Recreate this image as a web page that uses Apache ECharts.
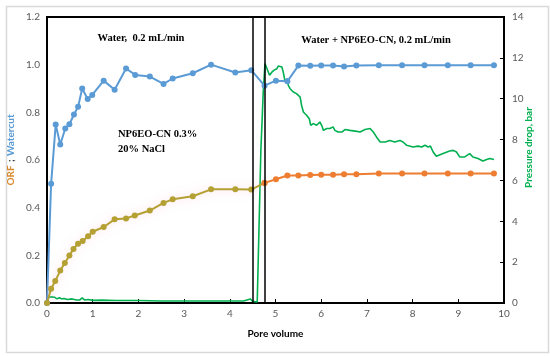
<!DOCTYPE html>
<html>
<head>
<meta charset="utf-8">
<script src="https://cdn.jsdelivr.net/npm/echarts@6/dist/echarts.min.js"></script>
<style>html,body{margin:0;padding:0;background:#fff}#c{width:550px;height:356px}</style>
</head>
<body>
<div id="c"></div>
<script>
// ---- data ----
const xTicks = [0,1,2,3,4,5,6,7,8,9,10];
const leftTicks = [0,0.2,0.4,0.6,0.8,1.0,1.2];
const rightTicks = [0,2,4,6,8,10,12,14];

const watercutPV = [0,0.09,0.19,0.29,0.40,0.49,0.59,0.68,0.77,0.89,0.99,1.24,1.48,1.73,1.93,2.25,2.55,2.75,3.19,3.59,4.12,4.47,4.76,5.01,5.26,5.50,5.76,6.00,6.26,6.50,6.77,7.26,7.77,8.26,8.77,9.27,9.78];
const watercut   = [0,0.50,0.749,0.665,0.732,0.750,0.791,0.823,0.900,0.856,0.873,0.933,0.895,0.984,0.957,0.950,0.919,0.942,0.964,1.000,0.967,0.977,0.912,0.933,0.930,0.996,0.995,0.996,0.996,0.992,0.996,0.998,0.998,0.998,0.998,0.998,0.998];

const orfWaterPV = [0,0.09,0.18,0.29,0.39,0.49,0.58,0.68,0.78,0.90,1.00,1.24,1.48,1.73,1.92,2.25,2.55,2.75,3.19,3.59,4.12,4.47,4.76];
const orfWater   = [0,0.060,0.092,0.136,0.168,0.199,0.227,0.249,0.260,0.280,0.299,0.319,0.351,0.355,0.367,0.388,0.420,0.435,0.448,0.477,0.477,0.476,0.504];

const orfSurfPV = [4.76,5.01,5.26,5.50,5.76,6.00,6.26,6.50,6.77,7.26,7.77,8.26,8.77,9.27,9.78];
const orfSurf   = [0.504,0.519,0.535,0.535,0.537,0.538,0.538,0.540,0.540,0.543,0.543,0.543,0.543,0.543,0.543];

const dpPV = [0,0.03,0.08,0.12,0.17,0.22,0.27,0.32,0.37,0.45,0.55,0.65,0.72,0.77,0.82,0.9,1.0,1.2,1.5,2.0,2.5,3.0,3.5,4.0,4.3,4.45,4.5,4.6,4.64,4.68,4.71,4.73,4.77,4.81,4.87,4.92,4.97,5.03,5.06,5.10,5.14,5.17,5.21,5.25,5.28,5.32,5.36,5.39,5.43,5.46,5.54,5.57,5.61,5.68,5.74,5.77,5.83,5.90,5.97,6.01,6.05,6.12,6.19,6.26,6.30,6.37,6.45,6.48,6.52,6.63,6.78,6.85,6.96,7.07,7.14,7.21,7.29,7.40,7.50,7.61,7.72,7.79,7.87,8.01,8.12,8.20,8.27,8.34,8.39,8.45,8.52,8.60,8.71,8.81,8.89,8.96,9.03,9.14,9.25,9.32,9.43,9.54,9.62,9.69,9.78];
const dpBar = [0,0.25,0.3,0.22,0.28,0.2,0.26,0.2,0.22,0.17,0.2,0.15,0.15,0.25,0.15,0.17,0.13,0.14,0.12,0.12,0.1,0.1,0.1,0.1,0.1,0.2,0.08,0.05,0.05,7.5,9.1,10.25,11.72,11.63,11.15,11.3,11.4,11.47,11.6,11.63,11.55,11.3,10.82,10.98,10.65,10.49,10.57,10.33,10.41,10.25,10.08,9.68,9.35,9.19,9.02,8.70,8.78,8.70,8.86,8.70,8.45,8.54,8.54,8.62,8.45,8.37,8.37,8.29,8.49,8.45,8.40,8.37,8.49,8.54,8.37,8.13,7.88,7.88,7.96,7.88,7.96,7.88,7.72,7.64,7.68,7.64,7.72,7.64,7.68,7.39,7.18,7.26,7.36,7.44,7.47,7.39,7.15,7.15,7.31,7.15,7.07,6.95,7.02,7.07,7.02];

const stageLines = [4.5, 4.77];
const labels = {
  water: 'Water,  0.2 mL/min',
  surf: 'Water + NP6EO-CN, 0.2 mL/min',
  note1: 'NP6EO-CN 0.3%',
  note2: '20% NaCl',
  xName: 'Pore volume',
  yRight: 'Pressure drop, bar'
};

const zip = (a, b) => a.map((v, i) => [v, b[i]]);

const chart = echarts.init(document.getElementById('c'), null, {renderer: 'canvas'});
const tickFont = {fontFamily: 'Lato', fontSize: 10, color: '#595959'};
const serif = 'bold 10.5px "Liberation Serif"';
const note = (text, x, y, align) => ({type: 'text', x: x, y: y,
  style: {text: text, font: serif, fill: '#000', align: align, verticalAlign: 'middle'}});

chart.setOption({
  animation: false,
  grid: {left: 47, top: 17, right: 46, bottom: 53, containLabel: false, outerBoundsMode: 'none',
         show: true, borderColor: '#000', borderWidth: 2, backgroundColor: 'transparent'},
  xAxis: {
    type: 'value', min: 0, max: 10, interval: 1,
    axisLine: {show: true, lineStyle: {color: '#000', width: 2}},
    axisTick: {show: true, inside: true, length: 4, lineStyle: {color: '#000'}},
    splitLine: {show: false},
    axisLabel: Object.assign({margin: 6}, tickFont),
    name: labels.xName, nameLocation: 'middle', nameGap: 26,
    nameTextStyle: {fontFamily: 'Lato', fontSize: 10, fontWeight: 'bold', color: '#000'}
  },
  yAxis: [{
    type: 'value', min: 0, max: 1.2, interval: 0.2,
    axisLine: {show: true, lineStyle: {color: '#000', width: 2}},
    axisTick: {show: false},
    splitLine: {show: false},
    axisLabel: Object.assign({margin: 7, formatter: v => v.toFixed(1)}, tickFont),
    name: '{o|ORF} {s|;} {w|Watercut}', nameLocation: 'middle', nameGap: 30, nameRotate: 90,
    nameMoveOverlap: false,
    nameTextStyle: {
      padding: [0, 0, 0, 20],
      rich: {
        o: {fontFamily: 'Lato', fontSize: 10, fontWeight: 'bold', color: '#D8892E'},
        s: {fontFamily: 'Lato', fontSize: 10, fontWeight: 'bold', color: '#333'},
        w: {fontFamily: 'Lato', fontSize: 10, fontWeight: 'bold', color: '#5B9BD5'}
      }
    }
  }, {
    type: 'value', min: 0, max: 14, interval: 2, position: 'right',
    axisLine: {show: true, lineStyle: {color: '#000', width: 2}},
    axisTick: {show: true, inside: true, length: 4, lineStyle: {color: '#000'}},
    splitLine: {show: false},
    axisLabel: Object.assign({margin: 8}, tickFont),
    name: labels.yRight, nameLocation: 'middle', nameGap: 20, nameRotate: 90,
    nameMoveOverlap: false,
    nameTextStyle: {fontFamily: 'Lato', fontSize: 10, fontWeight: 'bold', color: '#00B050', padding: [0, 0, 0, 25]}
  }],
  series: [{
    name: 'Pressure', type: 'line', yAxisIndex: 1, data: zip(dpPV, dpBar),
    showSymbol: false, symbol: 'none', lineStyle: {color: '#00B050', width: 1.6}, z: 2,
    markLine: {
      silent: true, symbol: ['none', 'none'], label: {show: false},
      lineStyle: {color: '#000', width: 1.5, type: 'solid'},
      data: stageLines.map(v => ({xAxis: v}))
    }
  }, {
    name: 'Watercut', type: 'line', yAxisIndex: 0, data: zip(watercutPV, watercut),
    symbol: 'circle', symbolSize: 6, itemStyle: {color: '#5B9BD5'},
    lineStyle: {color: '#5B9BD5', width: 2}, z: 3
  }, {
    name: 'ORF water', type: 'line', yAxisIndex: 0, data: zip(orfWaterPV, orfWater),
    symbol: 'circle', symbolSize: 6, itemStyle: {color: '#B5A033'},
    lineStyle: {color: '#B5A033', width: 2, shadowColor: 'rgba(255,180,210,0.7)', shadowBlur: 10}, z: 3
  }, {
    name: 'ORF surfactant', type: 'line', yAxisIndex: 0, data: zip(orfSurfPV, orfSurf),
    symbol: 'circle', symbolSize: 6, itemStyle: {color: '#ED7D31'},
    lineStyle: {color: '#ED7D31', width: 2}, z: 4
  }],
  graphic: [
    {type: 'rect', left: 4, top: 4, shape: {width: 542, height: 346}, style: {fill: 'none', stroke: '#d9d9d9', lineWidth: 1.5}, silent: true},
    note(labels.water, 141, 38, 'center'),
    note(labels.surf, 376, 40, 'center'),
    note(labels.note1, 118, 134, 'left'),
    note(labels.note2, 118, 149, 'left')
  ]
});
</script>
</body>
</html>
